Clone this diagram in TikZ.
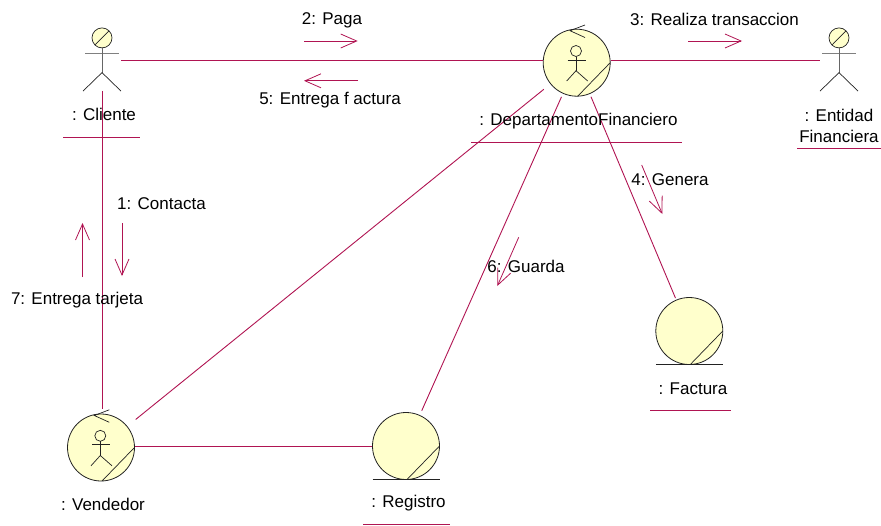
\documentclass[tikz,border=0pt]{standalone}
\usepackage{fontspec}
\setmainfont{Liberation Sans}
\usetikzlibrary{arrows.meta,calc}
\definecolor{link}{HTML}{B01452}
\definecolor{fillc}{HTML}{FFFFCC}
\definecolor{ink}{HTML}{222222}
\tikzset{
  x=1pt,y=-1pt,
  conn/.style={draw=link,line width=0.9pt},
  msg/.style={draw=link,line width=0.8pt,-{Straight Barb[length=16pt,width=14pt]}},
  ul/.style={draw=link,line width=0.9pt},
  txt/.style={font=\fontsize{17pt}{21pt}\selectfont,text=black,inner sep=0pt,align=center},
  btxt/.style={txt,anchor=base},
  ball/.style={circle,draw=ink,fill=fillc,line width=0.8pt,minimum size=67pt,inner sep=0pt},
  actorbox/.style={rectangle,minimum width=38pt,minimum height=60pt,inner sep=0pt},
  fig/.style={draw=ink,line width=0.7pt},
}
\newcommand{\stick}[1]{%
  \draw[draw=ink,fill=fillc,line width=0.7pt] ($(#1)+(0,-22.7)$) circle[radius=10];
  \draw[fig] ($(#1)+(-7,-15.6)$) -- ($(#1)+(7,-29.8)$);
  \draw[draw=gray,line width=1.1pt] ($(#1)+(-17,-7.3)$) -- ($(#1)+(17,-7.3)$);
  \draw[draw=gray!80!black,line width=0.9pt] ($(#1)+(0,-12.7)$) -- ($(#1)+(0,12)$);
  \draw[fig] ($(#1)+(-19,30.5)$) -- ($(#1)+(0,12)$) -- ($(#1)+(19,30.5)$);
}
\newcommand{\ballslash}[1]{%
  \draw[fig] ($(#1)+(33.5,0)$) -- ($(#1)+(1,33.5)$);
}
\newcommand{\ctrl}[1]{%
  \draw[fig] ($(#1)+(8.3,-37.7)$) -- ($(#1)+(-6.7,-32)$) -- ($(#1)+(8.3,-25.2)$);
  \draw[fig] ($(#1)+(-0.7,-11.7)$) circle[radius=5.5];
  \draw[fig] ($(#1)+(-9,-2.7)$) -- ($(#1)+(9,-2.7)$);
  \draw[fig] ($(#1)+(-0.7,-6.2)$) -- ($(#1)+(-0.7,8)$);
  \draw[fig] ($(#1)+(-10,18.3)$) -- ($(#1)+(-0.7,8)$) -- ($(#1)+(11,18.3)$);
}
\begin{document}
\begin{tikzpicture}
\useasboundingbox (0,0) rectangle (881,525);
% connectors first
\node[actorbox] (cliente) at (102,60.6) {};
\node[actorbox] (entidad) at (839,60.6) {};
\node[ball] (dept) at (576.7,62.7) {};
\node[ball] (vend) at (101,447.5) {};
\node[ball] (reg) at (406,446) {};
\node[ball] (fact) at (689.3,331) {};
\draw[conn] (cliente.east) -- (cliente.east -| dept.west);
\draw[conn] (cliente.east -| dept.east) -- (entidad.west);
\draw[conn,shorten >=4.5pt] (cliente.south) -- (cliente.south |- vend.north);
\draw[conn,shorten <=10.7pt,shorten >=8.4pt] (vend) -- (dept);
\draw[conn,shorten <=3.5pt,shorten >=4.8pt] (dept) -- (reg);
\draw[conn,shorten <=3pt,shorten >=1.8pt] (dept) -- (fact);
\draw[conn] (reg.west -| vend.east) -- (reg.west);
% figures
\stick{cliente}\stick{entidad}
\ctrl{dept}\ctrl{vend}
\ballslash{dept}\ballslash{vend}\ballslash{reg}\ballslash{fact}
\draw[draw=ink,line width=0.9pt] ($(reg)+(-33.5,33.5)$) -- ($(reg)+(33.5,33.5)$);
\draw[draw=ink,line width=0.9pt] ($(fact)+(-33.5,33.7)$) -- ($(fact)+(33.5,33.7)$);
% labels
\node[btxt] (lcliente) at (104,120.3) {: Cliente};
\node[btxt] (ldept) at (578.5,125) {: DepartamentoFinanciero};
\node[txt] (lentidad) at (839,125.5) {: Entidad\\Financiera};
\node[btxt] (lvend) at (103,510) {: Vendedor};
\node[btxt] (lreg) at (408.5,507.3) {: Registro};
\node[btxt] (lfact) at (693,394) {: Factura};
\draw[ul] (63,137) -- (139.5,137);
\draw[ul] (471,142) -- (682,142);
\draw[ul] (797,148) -- (881,148);
\draw[ul] (363,524) -- (450,524);
\draw[ul] (650,410.3) -- (731,410.3);
% messages
\node[btxt] (t2) at (332,24.5) {2: Paga};
\node[btxt] (t5) at (330,104) {5: Entrega f actura};
\node[btxt] (t3) at (714.5,25) {3: Realiza transaccion};
\node[btxt] (t1) at (161.5,209) {1: Contacta};
\node[btxt] (t7) at (77,304) {7: Entrega tarjeta};
\node[btxt] (t6) at (526,272) {6: Guarda};
\node[btxt] (t4) at (670,185) {4: Genera};
\coordinate (m2a) at (304,41); \coordinate (m2b) at (357.7,41);
\coordinate (m5a) at (358,80.8); \coordinate (m5b) at (304,80.8);
\coordinate (m3a) at (688,41); \coordinate (m3b) at (742,41);
\coordinate (m1a) at (122,223); \coordinate (m1b) at (122,276);
\coordinate (m7a) at (82.5,277); \coordinate (m7b) at (82.5,223);
\coordinate (m4a) at (641.7,165); \coordinate (m4b) at (662.3,214);
\coordinate (m6a) at (518.7,237.3); \coordinate (m6b) at (497.3,286);
\foreach \m in {2,5,3,1,7,4,6} \draw[msg] (m\m a) -- (m\m b);
\end{tikzpicture}
\end{document}
